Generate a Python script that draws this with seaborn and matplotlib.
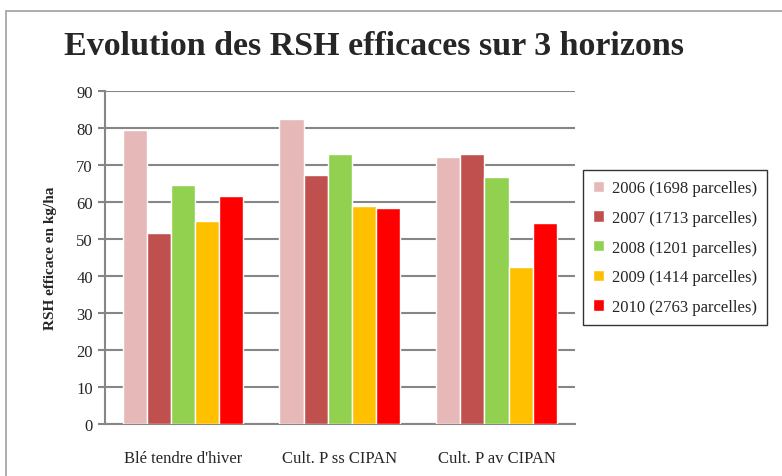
import pandas as pd
import matplotlib.pyplot as plt
import seaborn as sns
from matplotlib.patches import Rectangle

# Data
cultures = ["Blé tendre d'hiver", "Cult. P ss CIPAN", "Cult. P av CIPAN"]
series = ["2006 (1698 parcelles)", "2007 (1713 parcelles)", "2008 (1201 parcelles)",
          "2009 (1414 parcelles)", "2010 (2763 parcelles)"]
v2006 = [79.4, 82.5, 72.3]
v2007 = [51.7, 67.3, 73.0]
v2008 = [64.7, 73.0, 66.9]
v2009 = [55.0, 58.8, 42.5]
v2010 = [61.5, 58.5, 54.4]
colors = ["#E6B9B8", "#C0504D", "#92D050", "#FFC000", "#FF0000"]

rows = []
for name, vals in zip(series, [v2006, v2007, v2008, v2009, v2010]):
    for cult, v in zip(cultures, vals):
        rows.append({"culture": cult, "serie": name, "val": v})
df = pd.DataFrame(rows)

sns.set_style("white")
plt.rcParams["font.family"] = ["Liberation Serif", "DejaVu Serif"]

fig = plt.figure(figsize=(7.82, 4.77), dpi=100)
ax = fig.add_axes([0.134, 0.109, 0.601, 0.698])

sns.barplot(data=df, x="culture", y="val", hue="serie", order=cultures,
            hue_order=series, palette=colors, saturation=1, width=0.77,
            gap=0, ax=ax, zorder=3)

ax.set_ylim(0, 90)
ax.set_xlim(-0.5, 2.5)
ax.set_yticks(range(0, 91, 10))
ax.yaxis.grid(True, color="#868686", linewidth=1.5, zorder=0)
ax.set_axisbelow(True)
for s in ["top", "right"]:
    ax.spines[s].set_visible(False)
for s in ["left", "bottom"]:
    ax.spines[s].set_color("#868686")
    ax.spines[s].set_linewidth(1.5)
ax.tick_params(axis="y", left=True, length=5, color="#868686", width=1.5, labelsize=12)
ax.tick_params(axis="x", bottom=False, labelsize=12, pad=15)
ax.set_xlabel("")
ax.set_ylabel("RSH efficace en kg/ha", fontsize=11, fontweight="bold", labelpad=14)

leg = ax.legend(loc="center left", bbox_to_anchor=(1.0, 0.53), frameon=True,
                fontsize=12, handlelength=0.65, handleheight=0.65, labelspacing=0.82,
                handletextpad=0.5, borderpad=0.6, fancybox=False)
leg.get_frame().set_edgecolor("black")
leg.get_frame().set_linewidth(1)

fig.text(0.478, 0.903, "Evolution des RSH efficaces sur 3 horizons", ha="center",
         va="center", fontsize=24.5, fontweight="bold")

# Outer chart frame
fig.patches.append(Rectangle((6 / 782, -0.1), 1.0, 1.1 - 12 / 477,
                             transform=fig.transFigure, fill=False,
                             edgecolor="#A0A0A0", linewidth=1.2))

fig.savefig("out.png", dpi=100)
